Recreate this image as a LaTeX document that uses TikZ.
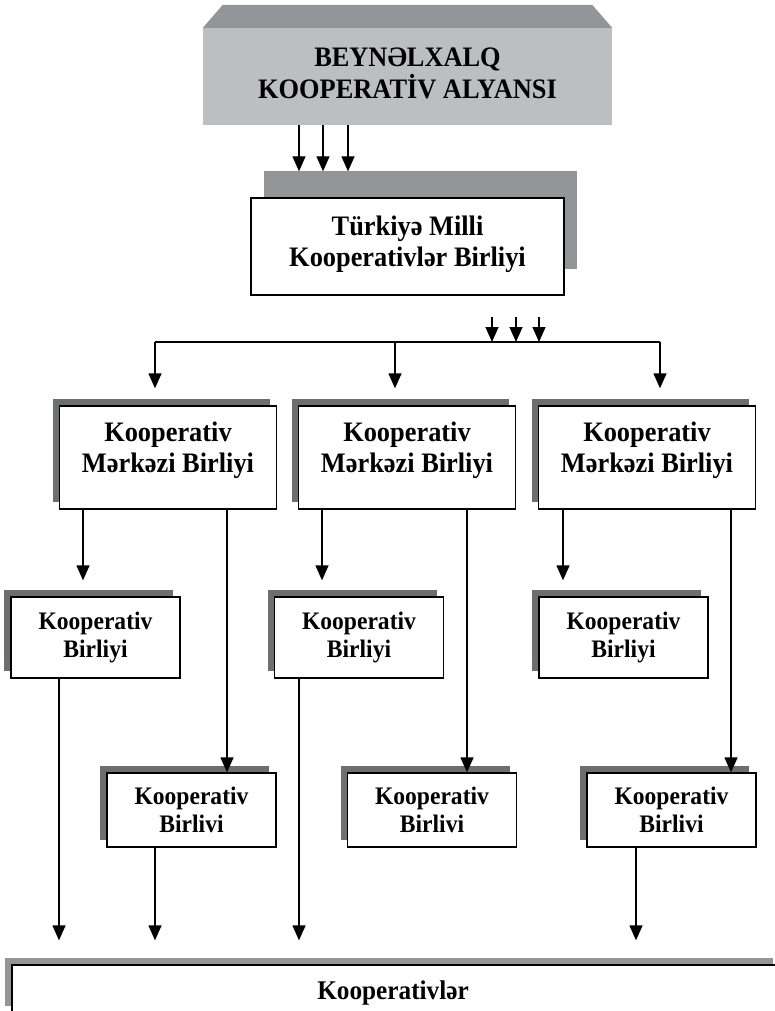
\documentclass[tikz,border=0pt]{standalone}
\usepackage{fontspec}
\setmainfont[FakeStretch=0.935]{Liberation Serif}
\usetikzlibrary{arrows.meta,shadows}
\definecolor{topgrey}{HTML}{BCBEC0}
\definecolor{midgrey}{HTML}{939598}
\definecolor{darkgrey}{HTML}{6D6E71}
\begin{document}
\begin{tikzpicture}[x=1pt,y=-1pt,
  conn/.style={line width=1.3pt, draw=black},
  arr/.style={conn, -{Triangle[length=15pt,width=13pt]}},
  bigfont/.style={font=\fontsize{28.2}{31.5}\selectfont\bfseries},
  smallfont/.style={font=\fontsize{25.2}{28}\selectfont\bfseries},
  wbox/.style={draw=black, line width=1.3pt, fill=white, inner sep=0pt, align=center},
  darkshadow/.style={general shadow={fill=darkgrey, shadow xshift=-7pt, shadow yshift=7.5pt}},
  topbox/.style={fill=topgrey, inner sep=0pt, align=center, minimum width=409pt, minimum height=97pt},
  tmbox/.style={wbox, minimum width=313pt, minimum height=97pt,
    general shadow={fill=midgrey, shadow xshift=12.5pt, shadow yshift=26.5pt}},
  mkbbox/.style={wbox, darkshadow, minimum width=217pt, minimum height=103pt},
  ctext/.style={align=center, bigfont, inner sep=0pt},
  kbbox/.style={wbox, darkshadow, smallfont, minimum width=169pt, minimum height=81pt},
  kb2box/.style={wbox, darkshadow, smallfont, minimum width=169pt, minimum height=74pt},
  basebox/.style={wbox, font=\fontsize{27}{30}\selectfont\bfseries, minimum width=768pt, minimum height=48pt,
    general shadow={fill=midgrey, shadow xshift=-7pt, shadow yshift=7pt}}
]
\useasboundingbox (0,0) rectangle (775,1011);

% top box
\node[topbox] (top) at (407.5,76.5) {};
\fill[midgrey] (top.north west) -- ([shift={(20,-23)}]top.north west)
  -- ([shift={(-20,-23)}]top.north east) -- (top.north east) -- cycle;
\node[ctext] (topt) at (407.5,73.5) {BEYNƏLXALQ\\KOOPERATİV ALYANSI};

% Turkiye
\node[tmbox] (tm) at (407.5,246.5) {};
\node[ctext] (tmt) at (407.5,244.5) {Türkiyə Milli\\Kooperativlər Birliyi};

\coordinate (ta1) at (299,0);
\coordinate (ta2) at (323,0);
\coordinate (ta3) at (348,0);
\foreach \c in {ta1,ta2,ta3}
  \draw[arr, shorten >=26pt] (top.south -| \c) -- (tm.north -| \c);

% hub
\coordinate (hubL) at (155,342);
\coordinate (hubM) at (395,342);
\coordinate (hubR) at (660,342);
\coordinate (s1) at (492,317);
\coordinate (s2) at (516,317);
\coordinate (s3) at (539,317);
\foreach \c in {s1,s2,s3}
  \draw[arr] (\c) -- (\c |- hubL);
\draw[conn] (hubL) -- (hubR);

% MKB boxes
\node[mkbbox] (m1) at (168,457.5) {};
\node[mkbbox] (m2) at (407,457.5) {};
\node[mkbbox] (m3) at (647,457.5) {};
\node[ctext] (m1t) at (168,450.5) {Kooperativ\\Mərkəzi Birliyi};
\node[ctext] (m2t) at (407,450.5) {Kooperativ\\Mərkəzi Birliyi};
\node[ctext] (m3t) at (647,450.5) {Kooperativ\\Mərkəzi Birliyi};

\draw[arr, shorten >=17pt] (hubL) -- (hubL |- m1.north);
\draw[arr, shorten >=17pt] (hubM) -- (hubM |- m2.north);
\draw[arr, shorten >=17pt] (hubR) -- (hubR |- m3.north);

% KB row 1
\node[kbbox] (k1) at (95.5,637.5) {Kooperativ\\Birliyi};
\node[kbbox] (k2) at (359,637.5) {Kooperativ\\Birliyi};
\node[kbbox] (k3) at (623.5,637.5) {Kooperativ\\Birliyi};

% KB row 2
\node[kb2box] (b1) at (191.5,810) {Kooperativ\\Birlivi};
\node[kb2box] (b2) at (432,810) {Kooperativ\\Birlivi};
\node[kb2box] (b3) at (671.5,810) {Kooperativ\\Birlivi};

% base box
\node[basebox] (kv) at (396,989) {};
\node[inner sep=0pt, font=\fontsize{27}{30}\selectfont\bfseries] (kvt) at (393,993) {Kooperativlər};

% connectors MKB -> KB
\coordinate (xa) at (83,0);
\coordinate (xb) at (227,0);
\coordinate (xc) at (322,0);
\coordinate (xd) at (467,0);
\coordinate (xe) at (563,0);
\coordinate (xf) at (731,0);
\draw[arr, shorten >=16pt] (m1.south -| xa) -- (k1.north -| xa);
\draw[arr] (m1.south -| xb) -- (b1.north -| xb);
\draw[arr, shorten >=16pt] (m2.south -| xc) -- (k2.north -| xc);
\draw[arr] (m2.south -| xd) -- (b2.north -| xd);
\draw[arr, shorten >=16pt] (m3.south -| xe) -- (k3.north -| xe);
\draw[arr] (m3.south -| xf) -- (b3.north -| xf);

% connectors to base
\coordinate (ya) at (59,0);
\coordinate (yb) at (155,0);
\coordinate (yc) at (299,0);
\coordinate (yd) at (636,0);
\draw[arr, shorten >=24pt] (k1.south -| ya) -- (kv.north -| ya);
\draw[arr, shorten >=24pt] (b1.south -| yb) -- (kv.north -| yb);
\draw[arr, shorten >=24pt] (k2.south -| yc) -- (kv.north -| yc);
\draw[arr, shorten >=24pt] (b3.south -| yd) -- (kv.north -| yd);
\end{tikzpicture}
\end{document}
